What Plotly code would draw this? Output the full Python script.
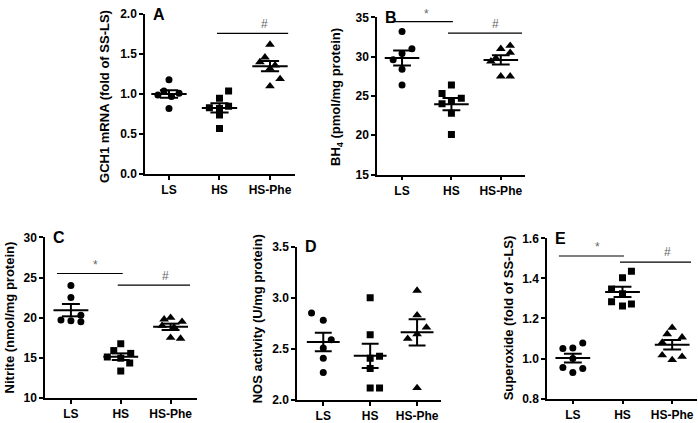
import numpy as np
import plotly.graph_objects as go

W, H = 698, 423
FONT = "Arial, Liberation Sans, sans-serif"

groups = ["LS", "HS", "HS-Phe"]

# ---- Panel A: GCH1 mRNA (fold of SS-LS)
gch1_ls = [1.18, 1.04, 1.01, 0.99, 0.97, 0.82]
gch1_hs = [1.04, 0.95, 0.85, 0.83, 0.82, 0.74, 0.57]
gch1_phe = [1.62, 1.46, 1.40, 1.36, 1.32, 1.19, 1.10]

# ---- Panel B: BH4 (pmol/mg protein)
bh4_ls = [33.2, 31.0, 30.4, 29.6, 28.4, 26.4]
bh4_hs = [26.4, 25.3, 24.7, 24.4, 24.0, 22.8, 20.1]
bh4_phe = [31.4, 31.0, 30.5, 29.8, 29.4, 27.5, 27.5]

# ---- Panel C: Nitrite (nmol/mg protein)
nitrite_ls = [24.0, 22.5, 20.3, 19.7, 19.6, 19.5]
nitrite_hs = [16.75, 15.9, 15.55, 15.1, 14.95, 14.35, 13.35]
nitrite_phe = [20.0, 19.8, 19.5, 19.0, 18.8, 17.5, 17.4]

# ---- Panel D: NOS activity (U/mg protein)
nos_ls = [2.85, 2.78, 2.59, 2.51, 2.41, 2.27]
nos_hs = [3.00, 2.64, 2.43, 2.41, 2.31, 2.12, 2.12]
nos_phe = [3.07, 2.83, 2.71, 2.645, 2.60, 2.12]

# ---- Panel E: Superoxide (fold of SS-LS)
sox_ls = [1.077, 1.053, 1.05, 1.00, 0.955, 0.95, 0.93]
sox_hs = [1.436, 1.404, 1.347, 1.323, 1.283, 1.272, 1.262]
sox_phe = [1.154, 1.122, 1.106, 1.08, 1.017, 1.009, 0.993]

# horizontal scatter offsets (category units) for overlapping points
jit_a = [[0, -0.1, 0.2, -0.22, 0.05, 0], [0.18, 0, 0.18, -0.2, 0, 0, 0], [0, -0.1, -0.2, 0.1, 0, 0.2, 0]]
jit_b = [[0, 0.2, 0, -0.18, 0, 0], [0, -0.19, 0.2, 0, -0.19, 0, 0], [0.19, 0, 0.19, -0.1, -0.2, 0, 0.19]]
jit_c = [[0, 0, 0.2, -0.2, 0, 0.2], [0, -0.14, 0.2, -0.27, 0, 0.18, 0], [0, -0.13, 0.23, -0.17, 0.07, 0, 0.2]]
jit_d = [[-0.25, 0, 0.17, 0, 0, 0], [0, 0, 0.2, 0, 0, 0, 0.2], [0, 0, 0.2, 0, -0.2, 0]]
jit_e = [[0.2, 0, -0.2, 0, -0.2, 0.2, 0], [0.18, 0, -0.22, 0, -0.22, 0.18, 0], [0, -0.1, 0.2, -0.2, -0.2, 0.2, 0]]

panels = [
    dict(letter="A", vals=[gch1_ls, gch1_hs, gch1_phe], jit=jit_a,
         box=(145, 295, 7.3, 173), xr=[-0.475, 2.495], yr=[0, 2], dtick=0.5, fmt=".1f",
         title="GCH1 mRNA (fold of SS-LS)", tpos=(105, 93),
         sig=[(0.95, 2.36, 1.76, "#", 1.9, 1.88)]),
    dict(letter="B", vals=[bh4_ls, bh4_hs, bh4_phe], jit=jit_b,
         box=(377, 525, 10.7, 173.3), xr=[-0.507, 2.49], yr=[15, 35], dtick=5, fmt="d",
         title="BH<sub>4</sub> (pmol/mg protein)", tpos=(337, 93),
         sig=[(-0.18, 1.03, 34.45, "*", 0.5, 35.4), (0.93, 2.43, 33.0, "#", 1.9, 34.1)]),
    dict(letter="C", vals=[nitrite_ls, nitrite_hs, nitrite_phe], jit=jit_c,
         box=(45, 197, 238.3, 404.3), xr=[-0.52, 2.53], yr=[10, 30], dtick=5, fmt="d",
         title="Nitrite (nmol/mg protein)", tpos=(9, 321),
         sig=[(-0.28, 1.04, 25.5, "*", 0.5, 26.6), (0.94, 2.39, 24.05, "#", 1.9, 25.2)]),
    dict(letter="D", vals=[nos_ls, nos_hs, nos_phe], jit=jit_d,
         box=(297, 441, 247.7, 406.7), xr=[-0.56, 2.51], yr=[2.0, 3.5], dtick=0.5, fmt=".1f",
         title="NOS activity (U/mg protein)", tpos=(257, 323),
         sig=[]),
    dict(letter="E", vals=[sox_ls, sox_hs, sox_phe], jit=jit_e,
         box=(547, 697, 239.3, 405), xr=[-0.52, 2.5], yr=[0.8, 1.6], dtick=0.2, fmt=".1f",
         title="Superoxide (fold of SS-LS)", tpos=(508, 322),
         sig=[(-0.28, 1.03, 1.512, "*", 0.49, 1.558), (0.95, 2.38, 1.481, "#", 1.9, 1.534)]),
]

symbols = ["circle", "square", "triangle-up"]
msizes = [7, 7, 8.5]
MEAN_HW = 0.35
CAP_HW = 0.18

fig = go.Figure()
layout = dict(width=W, height=H, margin=dict(l=0, r=0, t=0, b=0),
              paper_bgcolor="white", plot_bgcolor="white", showlegend=False,
              font=dict(family=FONT, color="black"))
annotations, shapes = [], []

for i, p in enumerate(panels, start=1):
    sfx = "" if i == 1 else str(i)
    xa, ya = "x" + sfx, "y" + sfx
    left, right, top, bottom = p["box"]
    yd = [1 - bottom / H, 1 - top / H]
    axis_common = dict(showline=True, linecolor="black", linewidth=1.5, ticks="outside",
                       ticklen=4, tickwidth=1.5, tickcolor="black", showgrid=False,
                       zeroline=False, fixedrange=True,
                       tickfont=dict(family=FONT, size=12, color="black", weight="bold"))
    layout["xaxis" + sfx] = dict(domain=[left / W, right / W], range=p["xr"], anchor=ya,
                                 tickvals=[0, 1, 2], ticktext=groups, **axis_common)
    layout["yaxis" + sfx] = dict(domain=yd, range=p["yr"], anchor=xa, dtick=p["dtick"],
                                 tick0=p["yr"][0], tickformat=p["fmt"], **axis_common)

    def to_paper_y(v, p=p, yd=yd):
        r0, r1 = p["yr"]
        return yd[0] + (v - r0) / (r1 - r0) * (yd[1] - yd[0])

    def to_paper_x(v, p=p, left=left, right=right):
        r0, r1 = p["xr"]
        return (left + (v - r0) / (r1 - r0) * (right - left)) / W

    for g in range(3):
        vals = np.array(p["vals"][g], dtype=float)
        jit = np.array(p["jit"][g], dtype=float)
        fig.add_trace(go.Scatter(x=g + jit, y=vals, mode="markers", xaxis=xa, yaxis=ya,
                                 marker=dict(symbol=symbols[g], size=msizes[g], color="black",
                                             line=dict(width=0)),
                                 hoverinfo="skip"))
    # mean +/- SEM
    mx, my = [], []
    for g in range(3):
        vals = np.array(p["vals"][g], dtype=float)
        m = vals.mean()
        s = vals.std(ddof=1) / np.sqrt(len(vals))
        mx += [g - MEAN_HW, g + MEAN_HW, None, g, g, None,
               g - CAP_HW, g + CAP_HW, None, g - CAP_HW, g + CAP_HW, None]
        my += [m, m, None, m - s, m + s, None, m + s, m + s, None, m - s, m - s, None]
    fig.add_trace(go.Scatter(x=mx, y=my, mode="lines", xaxis=xa, yaxis=ya,
                             line=dict(color="black", width=2), hoverinfo="skip"))

    # significance bars
    for (x0, x1, yl, sym, xs, ys) in p["sig"]:
        shapes.append(dict(type="line", xref=xa, yref=ya, x0=x0, x1=x1, y0=yl, y1=yl,
                           line=dict(color="black", width=1.2)))
        annotations.append(dict(text=sym, xref="paper", yref="paper",
                                x=to_paper_x(xs), y=to_paper_y(ys), showarrow=False,
                                xanchor="center", yanchor="middle",
                                font=dict(family=FONT, size=12, color="#666666")))

    # panel letter
    annotations.append(dict(text=p["letter"], xref="paper", yref="paper",
                            x=(left + 6) / W, y=yd[1], showarrow=False,
                            xanchor="left", yanchor="middle",
                            font=dict(family=FONT, size=16, color="black", weight="bold")))
    # y title
    tx, ty = p["tpos"]
    annotations.append(dict(text=p["title"], xref="paper", yref="paper",
                            x=tx / W, y=1 - ty / H, showarrow=False, textangle=-90,
                            xanchor="center", yanchor="middle",
                            font=dict(family=FONT, size=13, color="black", weight="bold")))

layout["annotations"] = annotations
layout["shapes"] = shapes
fig.update_layout(**layout)
fig.write_html("out.html", config={"displayModeBar": False},
               post_script="document.body.style.margin='0px';")
